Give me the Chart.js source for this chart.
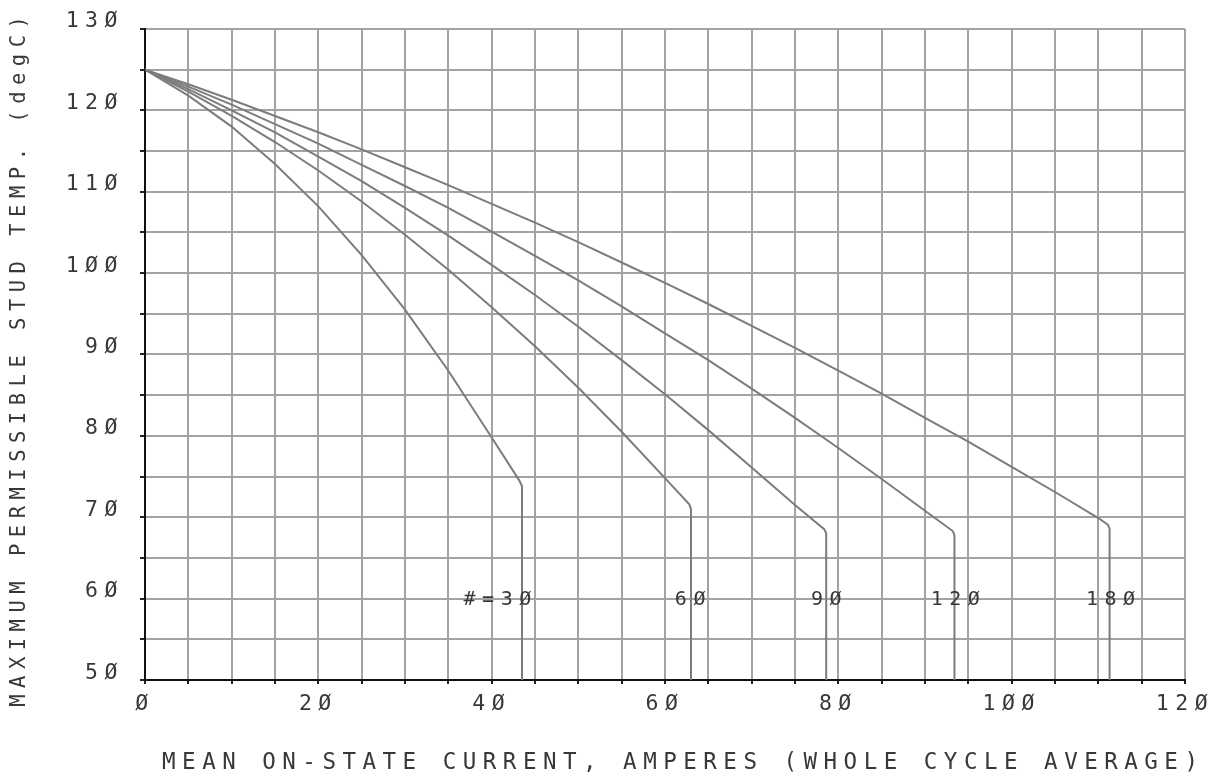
<!DOCTYPE html>
<html lang="en">
    <head>
        <title>Maximum permissible stud temperature vs mean on-state current</title>
        <meta charset="utf-8">
        <script src="https://cdn.jsdelivr.net/npm/chart.js@4.4.1/dist/chart.umd.min.js"></script>
        <style>
            body { margin: 0; background: #ffffff; overflow: hidden; }
            #wrapper { width: 1223px; height: 776px; }
        </style>
    </head>
    <body>
        <div id="wrapper"><!-- chart holder -->
            <canvas id="tempChart"></canvas>
        </div>
        <script>
            // curves: current (A) and stud temp (degC)
            var amps30 = [0, 5, 10, 15, 20, 25, 30, 35, 40, 43.2, 43.5, 43.5];
            var temp30 = [125, 121.8, 118.0, 113.4, 108.2, 102.2, 95.5, 88.0, 79.8, 74.5, 73.8, 50];

            var amps60 = [0, 5, 10, 15, 20, 25, 30, 35, 40, 45, 50, 55, 60, 62.8, 63.0, 63.0];
            var temp60 = [125, 122.3, 119.3, 116.1, 112.6, 108.8, 104.7, 100.4, 95.8, 91.0, 85.9, 80.5, 74.8, 71.6, 71.0, 50];

            var amps90 = [0, 5, 10, 15, 20, 25, 30, 35, 40, 45, 50, 55, 60, 65, 70, 75, 78.4, 78.6, 78.6];
            var temp90 = [125, 122.6, 120.0, 117.3, 114.3, 111.3, 108.0, 104.6, 101.0, 97.3, 93.4, 89.3, 85.1, 80.7, 76.1, 71.5, 68.5, 68.0, 50];

            var amps120 = [0, 5, 10, 15, 20, 25, 30, 35, 40, 45, 50, 55, 60, 65, 70, 75, 80, 85, 90, 93.2, 93.4, 93.4];
            var temp120 = [125, 122.9, 120.7, 118.3, 115.9, 113.3, 110.7, 108.0, 105.1, 102.1, 99.1, 95.9, 92.6, 89.3, 85.8, 82.2, 78.5, 74.7, 70.8, 68.3, 67.8, 50];

            var amps180 = [0, 5, 10, 15, 20, 25, 30, 35, 40, 45, 50, 55, 60, 65, 70, 75, 80, 85, 90, 95, 100, 105, 110, 111.1, 111.3, 111.3];
            var temp180 = [125, 123.2, 121.3, 119.3, 117.3, 115.2, 113.0, 110.8, 108.5, 106.2, 103.8, 101.3, 98.8, 96.2, 93.5, 90.8, 88.0, 85.2, 82.2, 79.3, 76.2, 73.1, 69.9, 69.1, 68.6, 50];

            // labels written next to each curve
            var curveLabels = ['3Ø', '6Ø', '9Ø', '12Ø', '18Ø'];
            var curveLabelAmps = [42.8, 62.9, 78.6, 93.5, 111.4];
            var curveLabelTemp = 60;
            var firstLabelPrefix = '#=';

            // axis tick labels (plotter style slashed zero)
            var xTickValues = [0, 20, 40, 60, 80, 100, 120];
            var xTickLabels = ['Ø', '2Ø', '4Ø', '6Ø', '8Ø', '1ØØ', '12Ø'];
            var yTickValues = [50, 60, 70, 80, 90, 100, 110, 120, 130];
            var yTickLabels = ['5Ø', '6Ø', '7Ø', '8Ø', '9Ø', '1ØØ', '11Ø', '12Ø', '13Ø'];

            var xTitle = 'MEAN ON-STATE CURRENT, AMPERES (WHOLE CYCLE AVERAGE)';
            var yTitle = 'MAXIMUM PERMISSIBLE STUD TEMP. (degC)';

            var FONT = "'DejaVu Sans Mono', 'Liberation Mono', monospace";
            var TEXT = '#383838';
            var GRID = '#a3a3a3';
            var CURVE = '#7c7c7c';
            var SPACING = 6.5; // wide plotter letter spacing

            function pairUp(xs, ys) {
                var pts = [];
                for (var i = 0; i < xs.length; i++) {
                    pts.push({x: xs[i], y: ys[i]});
                }
                return pts;
            }

            function tickText(value, values, labels) {
                var i = values.indexOf(value);
                return i < 0 ? '' : labels[i];
            }

            function curveSet(xs, ys) {
                return {
                    data: pairUp(xs, ys),
                    borderColor: CURVE,
                    borderWidth: 2,
                    pointRadius: 0,
                    tension: 0,
                    fill: false
                };
            }

            // letter spacing for everything drawn on the canvas
            var plotterSpacing = {
                id: 'plotterSpacing',
                beforeDraw: function(chart) {
                    chart.ctx.letterSpacing = SPACING + 'px';
                }
            };

            // visible width of a string (drop the spacing after the last glyph)
            function inkWidth(ctx, s) {
                return ctx.measureText(s).width - SPACING;
            }

            // the "#=30", "60" ... notes at the 60 degC line, plus the axis titles
            var curveNotes = {
                id: 'curveNotes',
                afterDatasetsDraw: function(chart) {
                    var ctx = chart.ctx;
                    var xs = chart.scales.x;
                    var ys = chart.scales.y;
                    var area = chart.chartArea;
                    ctx.save();
                    ctx.letterSpacing = SPACING + 'px';
                    ctx.font = '20px ' + FONT;
                    ctx.fillStyle = TEXT;
                    ctx.textAlign = 'left';
                    ctx.textBaseline = 'middle';
                    var py = ys.getPixelForValue(curveLabelTemp) + 1;
                    for (var i = 0; i < curveLabels.length; i++) {
                        var px = xs.getPixelForValue(curveLabelAmps[i]);
                        var left = px - inkWidth(ctx, curveLabels[i]) / 2;
                        if (i === 0) {
                            var pw = ctx.measureText(firstLabelPrefix).width;
                            ctx.fillText(firstLabelPrefix + curveLabels[i], left - pw, py);
                        } else {
                            ctx.fillText(curveLabels[i], left, py);
                        }
                    }

                    // x title under the tick labels
                    ctx.font = '22.5px ' + FONT;
                    var cx = (area.left + area.right) / 2 + 15;
                    ctx.fillText(xTitle, cx - inkWidth(ctx, xTitle) / 2, area.bottom + 83);

                    // y title, rotated, along the left edge
                    ctx.font = '20.5px ' + FONT;
                    ctx.translate(19.5, (area.top + area.bottom) / 2 + 7);
                    ctx.rotate(-Math.PI / 2);
                    ctx.fillText(yTitle, -inkWidth(ctx, yTitle) / 2, 0);
                    ctx.restore();
                }
            };

            var ctx = document.getElementById('tempChart').getContext('2d');
            var myChart = new Chart(ctx, {
                type: 'line',
                data: {
                    datasets: [
                        curveSet(amps30, temp30),
                        curveSet(amps60, temp60),
                        curveSet(amps90, temp90),
                        curveSet(amps120, temp120),
                        curveSet(amps180, temp180)
                    ]
                },
                options: {
                    responsive: true,
                    maintainAspectRatio: false,
                    animation: false,
                    layout: { padding: { top: 27, right: 38, bottom: 0, left: 0 } },
                    plugins: {
                        legend: { display: false },
                        tooltip: { enabled: false }
                    },
                    scales: {
                        x: {
                            type: 'linear',
                            min: 0,
                            max: 120,
                            afterFit: function(scale) { scale.height = 96; },
                            grid: { color: GRID, lineWidth: 2, tickLength: 4, tickColor: '#222', tickWidth: 2 },
                            border: { color: '#111', width: 2 },
                            ticks: {
                                stepSize: 5,
                                autoSkip: false,
                                maxRotation: 0,
                                padding: 8,
                                color: TEXT,
                                font: { family: FONT, size: 21.5 },
                                callback: function(v) { return tickText(v, xTickValues, xTickLabels); }
                            }
                        },
                        y: {
                            min: 50,
                            max: 130,
                            afterFit: function(scale) { scale.width = 145; },
                            grid: { color: GRID, lineWidth: 2, tickLength: 5, tickColor: '#222', tickWidth: 2 },
                            border: { color: '#111', width: 2 },
                            ticks: {
                                stepSize: 5,
                                autoSkip: false,
                                padding: 16,
                                labelOffset: -7,
                                color: TEXT,
                                font: { family: FONT, size: 21.5 },
                                callback: function(v) { return tickText(v, yTickValues, yTickLabels); }
                            }
                        }
                    }
                },
                plugins: [plotterSpacing, curveNotes]
            });
        </script>
    </body>
</html>
